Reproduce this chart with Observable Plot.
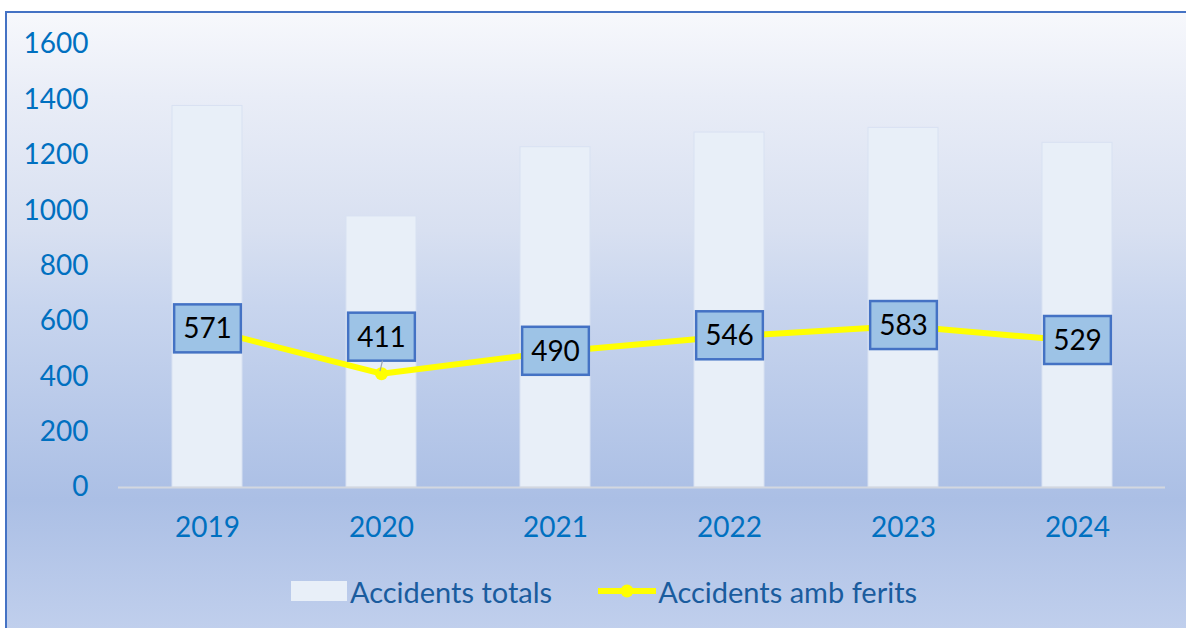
<!DOCTYPE html>
<html>
<head>
<meta charset="utf-8">
<script src="https://cdn.jsdelivr.net/npm/d3@7"></script>
<script src="https://cdn.jsdelivr.net/npm/@observablehq/plot@0.6"></script>
<style>
  html, body { margin: 0; padding: 0; background: #ffffff; overflow: hidden; width: 1186px; height: 628px; }
  #frame {
    position: absolute; left: 5px; top: 11px;
    width: 1194px; height: 640px;
    border-left: 2px solid #4472C4; border-top: 2px solid #4472C4;
    background: linear-gradient(to bottom, #f7f8fc 0%, #e9edf7 13%, #d8e0f1 34%, #c8d5ee 46%, #abbfe5 76%, #c4d2ee 100%);
    font-family: Lato, "Open Sans", sans-serif;
  }
  #chart svg { display: block; }
  #legend {
    display: flex; align-items: center; justify-content: center;
    height: 58px; font-size: 29px; color: #1a5c9e; font-family: Lato, sans-serif;
  }
  .sw-bar { display: inline-block; width: 56px; height: 20px; background: #e8eff8; margin-right: 3px; }
  .sw-line { margin-left: 46px; margin-right: 2px; }
</style>
</head>
<body>
<div id="frame">
  <div id="chart"></div>
  <div id="legend"></div>
</div>
<script>
const years = ["2019", "2020", "2021", "2022", "2023", "2024"];
const totals = [1378, 979, 1229, 1282, 1299, 1245];
const injured = [571, 411, 490, 546, 583, 529];
const yTicks = [0, 200, 400, 600, 800, 1000, 1200, 1400, 1600];
const seriesNames = ["Accidents totals", "Accidents amb ferits"];

const data = years.map((year, i) => ({ year, total: totals[i], injured: injured[i] }));

const plot = Plot.plot({
  width: 1179,
  height: 549,
  marginLeft: 111,
  marginRight: 21,
  marginTop: 31,
  marginBottom: 75,
  x: { domain: years, paddingInner: 0.6, paddingOuter: 0.3 },
  y: { domain: [0, 1600] },
  style: { fontFamily: "Lato, 'Open Sans', sans-serif", fontSize: "28px", color: "#0070C0", background: "transparent", overflow: "visible" },
  marks: [
    Plot.axisY(yTicks, { tickSize: 0, tickPadding: 30, label: null, fontSize: 28, tickFormat: d => String(d) }),
    Plot.axisX({ tickSize: 0, tickPadding: 30, label: null, fontSize: 28 }),
    Plot.barY(data, { x: "year", y: "total", fill: "#e8eff8", stroke: "#d8e1f2", strokeWidth: 1 }),
    Plot.ruleY([0], { stroke: "#d3d7df", strokeWidth: 2 }),
    Plot.line(data, { x: "year", y: "injured", stroke: "#ffff00", strokeWidth: 6 }),
    Plot.dot(data, { x: "year", y: "injured", r: 6.5, fill: "#ffff00" }),
    Plot.text(data.filter(d => d.year !== "2020"), { x: "year", y: "injured", text: d => String(d.injured), fill: "#000000", fontSize: 28 }),
    Plot.text(data.filter(d => d.year === "2020"), { x: "year", y: "injured", text: d => String(d.injured), fill: "#000000", fontSize: 28, dy: -36 })
  ]
});
document.getElementById("chart").appendChild(plot);

// boxes behind value labels
const svg = d3.select(plot);
const svgRect = plot.getBoundingClientRect();
let box2020 = null;
svg.selectAll('g[aria-label="text"] text').each(function () {
  const t = this;
  const bb = t.getBBox();
  const w = bb.width + 18, h = 48;
  const cx = bb.x + bb.width / 2, cy = bb.y + bb.height / 2 + 1;
  const r = document.createElementNS("http://www.w3.org/2000/svg", "rect");
  r.setAttribute("x", cx - w / 2);
  r.setAttribute("y", cy - h / 2);
  r.setAttribute("width", w);
  r.setAttribute("height", h);
  r.setAttribute("fill", "#9dc3e6");
  r.setAttribute("stroke", "#4472c4");
  r.setAttribute("stroke-width", 2.5);
  if (t.getAttribute("transform")) r.setAttribute("transform", t.getAttribute("transform"));
  t.parentNode.insertBefore(r, t);
  if (t.textContent === "411") box2020 = r;
});

// leader line for the shifted 2020 label
if (box2020) {
  const xs = plot.scale("x"), ys = plot.scale("y");
  const px = xs.apply("2020") + xs.bandwidth / 2;
  const py = ys.apply(411);
  const br = box2020.getBoundingClientRect();
  const bx = br.left + br.width / 2 - svgRect.left;
  const by = br.bottom - svgRect.top;
  svg.append("line")
    .attr("x1", bx + 1).attr("y1", by)
    .attr("x2", px - 1).attr("y2", py - 2)
    .attr("stroke", "#9aa3b0").attr("stroke-width", 1.2);
}

// legend
const legend = document.getElementById("legend");
legend.innerHTML =
  `<span class="sw-bar"></span><span>${seriesNames[0]}</span>` +
  `<svg class="sw-line" width="58" height="20"><line x1="0" y1="10" x2="58" y2="10" stroke="#ffff00" stroke-width="6"/><circle cx="29" cy="10" r="6.5" fill="#ffff00"/></svg>` +
  `<span>${seriesNames[1]}</span>`;
</script>
</body>
</html>
